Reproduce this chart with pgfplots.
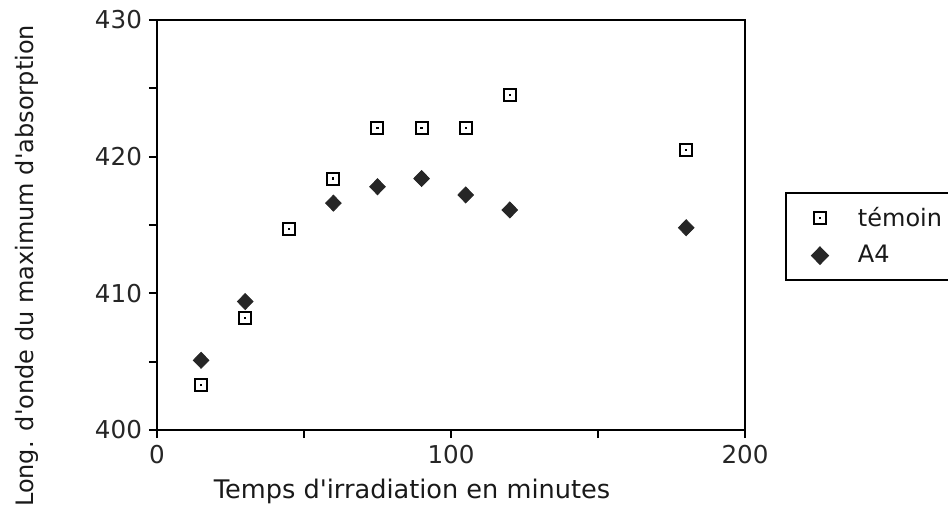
\documentclass[border=0pt]{standalone}
\usepackage{fontspec}
\setmainfont{DejaVu Sans}
\usepackage{pgfplots}
\pgfplotsset{compat=1.18}
\pgfdeclareplotmark{sqdot}{%
  \pgfpathrectangle{\pgfqpoint{-\pgfplotmarksize}{-\pgfplotmarksize}}{\pgfqpoint{2\pgfplotmarksize}{2\pgfplotmarksize}}%
  \pgfusepathqstroke
  \pgfpathrectangle{\pgfqpoint{-0.55pt}{-0.55pt}}{\pgfqpoint{1.1pt}{1.1pt}}%
  \pgfusepathqfill
}
\begin{document}
\begin{tikzpicture}
\begin{axis}[
  name=ax,
  scale only axis,
  width=294pt, height=205pt,
  xmin=0, xmax=200, ymin=400, ymax=430,
  xtick={0,100,200}, minor xtick={50,150},
  ytick={400,410,420,430}, minor ytick={405,415,425},
  tick align=outside, xtick pos=left, ytick pos=left,
  major tick length=4pt, minor tick length=4pt,
  every tick/.style={black, line width=0.9pt},
  minor tick style={black, line width=0.9pt},
  axis line style={line width=1pt},
  /pgf/number format/assume math mode=true,
  /pgf/number format/set thousands separator={},
  tick label style={font=\fontsize{12.3}{14}\selectfont, text=black!85},
  xlabel={Temps d\textquotesingle irradiation en minutes},
  ylabel={Long. d\textquotesingle onde du maximum d\textquotesingle absorption},
  label style={font=\fontsize{12.8}{14}\selectfont, text=black!90},
  xlabel style={at={(axis description cs:0.4337,-0.151)}, anchor=center},
  ylabel style={at={(axis description cs:-0.221,0.40)}, anchor=center, font=\fontsize{12}{14}\selectfont},
  legend style={at={(axis description cs:1.068,0.58)}, anchor=north west, draw=black, line width=1pt,
    font=\fontsize{12}{14}\selectfont, text=black!90,
    inner xsep=6pt, inner ysep=5pt, row sep=4pt, cells={anchor=west}},
  legend image code/.code={\path (0pt,0pt) (27pt,0pt); \draw[#1] plot coordinates {(10.5pt,0pt)};},
  legend cell align=left,
]
\addplot[only marks, mark=sqdot, mark size=3pt, mark options={line width=1pt, draw=black, fill=black}] coordinates {
 (15,403.3) (30,408.2) (45,414.7) (60,418.4) (75,422.1) (90,422.1) (105,422.1) (120,424.5) (180,420.5)};
\addlegendentry{\makebox[50pt][l]{témoin}}
\addplot[only marks, mark=diamond*, mark size=4pt, mark options={xscale=1.3, draw=black!85, fill=black!85}] coordinates {
 (15,405.1) (30,409.4) (60,416.6) (75,417.8) (90,418.4) (105,417.2) (120,416.1) (180,414.8)};
\addlegendentry{\makebox[50pt][l]{A4}}
\end{axis}
\pgfresetboundingbox
\path[use as bounding box] (ax.south west) ++(-78.5pt,-42pt) rectangle ([xshift=395.5pt,yshift=215pt]ax.south west);
\end{tikzpicture}
\end{document}
